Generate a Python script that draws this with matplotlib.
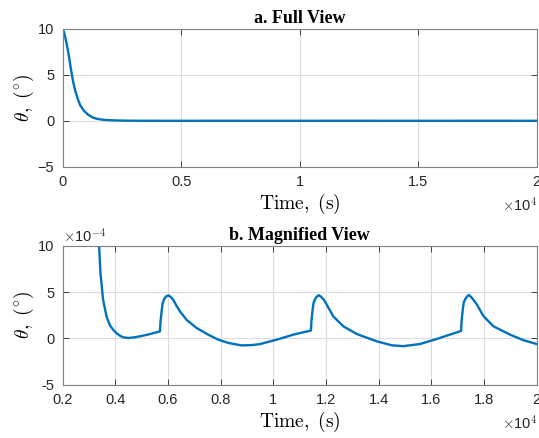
import numpy as np
import matplotlib.pyplot as plt
from matplotlib.ticker import FuncFormatter

# time (s) and pitch angle (deg)
t_decay = [0, 60, 114, 180, 253, 320, 396, 460, 535, 640, 746, 900, 1100, 1300, 1520, 1800, 2220, 2800]
theta_decay = [10.0, 9.7, 9.1, 8.3, 7.3, 6.2, 5.0, 4.1, 3.3, 2.4, 1.7, 1.1, 0.62, 0.33, 0.18, 0.09, 0.04, 0.012]

# magnified part, theta in units of 1e-4 deg
t_tail = [3350, 3390, 3440, 3540, 3670, 3800, 3920, 4050, 4180, 4300, 4490, 4700, 4940, 5300, 5700,
          5720, 5760, 5800, 5850, 5920, 6010, 6100, 6200, 6330, 6460, 6710, 7090, 7530, 7910,
          8300, 8800, 9200, 9490, 10130, 10760, 11430,
          11450, 11490, 11530, 11580, 11650, 11730, 11810, 11920, 12030, 12280, 12660, 13170,
          13930, 14500, 14940, 15570, 16200, 16600, 17130,
          17150, 17190, 17230, 17280, 17350, 17420, 17500, 17600, 17720, 17980, 18360, 18990,
          19500, 20000]
theta_tail_e4 = [12.0, 9.9, 7.05, 4.17, 2.37, 1.4, 0.94, 0.55, 0.29, 0.12, 0.04, 0.1, 0.22, 0.45, 0.76,
                 1.8, 2.9, 3.8, 4.18, 4.5, 4.64, 4.5, 4.18, 3.5, 2.9, 2.0, 1.12, 0.4, -0.14,
                 -0.5, -0.76, -0.72, -0.62, -0.14, 0.4, 0.85,
                 1.9, 3.0, 3.85, 4.2, 4.5, 4.66, 4.5, 4.18, 3.64, 2.37, 1.3, 0.47,
                 -0.32, -0.75, -0.84, -0.61, -0.07, 0.3, 0.8,
                 1.9, 3.0, 3.85, 4.2, 4.5, 4.68, 4.5, 4.15, 3.7, 2.4, 1.3, 0.4,
                 -0.2, -0.61]

t = np.array(t_decay + t_tail, dtype=float)
theta = np.array(theta_decay + [v * 1e-4 for v in theta_tail_e4])

plt.rcParams['font.family'] = 'Liberation Sans'
plt.rcParams['mathtext.fontset'] = 'cm'

blue = '#0072BD'
axcol = '#262626'

fig = plt.figure(figsize=(5.39, 4.38), dpi=100)
ax1 = fig.add_axes([0.116, 0.6194, 0.8797, 0.3144])
ax2 = fig.add_axes([0.116, 0.1217, 0.8797, 0.3173])

for ax in (ax1, ax2):
    ax.plot(t, theta, color=blue, lw=1.7)
    ax.grid(True, color='#dcdcdc', lw=0.8)
    ax.set_axisbelow(True)
    ax.tick_params(direction='in', length=4, width=0.6, colors=axcol,
                   labelsize=10.5, top=True, right=True, pad=6)
    for s in ax.spines.values():
        s.set_color('#808080')
        s.set_linewidth(0.8)
    ax.xaxis.set_major_formatter(FuncFormatter(lambda v, p: '%g' % (v / 1e4)))
    ax.set_xlabel(r'$\mathrm{Time,\ (s)}$', fontsize=14, labelpad=2)
    ax.set_ylabel(r'$\theta,\ (^{\circ})$', fontsize=14, labelpad=1)
    ax.text(1.0, -0.21, r'$\times$10$^{4}$', transform=ax.transAxes,
            ha='right', va='top', fontsize=10.5, color=axcol,
            family='Liberation Sans')

ax1.set_xlim(0, 20000)
ax1.set_ylim(-5, 10)
ax1.set_xticks([0, 5000, 10000, 15000, 20000])
ax1.set_yticks([-5, 0, 5, 10])
ax1.set_title('a. Full View', fontsize=13, fontweight='bold',
              family='Liberation Serif', pad=4)

ax2.set_xlim(2000, 20000)
ax2.set_ylim(-5e-4, 10e-4)
ax2.set_xticks(np.arange(2000, 20001, 2000))
ax2.set_yticks([-5e-4, 0, 5e-4, 10e-4])
ax2.yaxis.set_major_formatter(FuncFormatter(lambda v, p: '%g' % round(v * 1e4, 6)))
ax2.text(0.0, 1.01, r'$\times$10$^{-4}$', transform=ax2.transAxes,
         ha='left', va='bottom', fontsize=10.5, color=axcol,
         family='Liberation Sans')
ax2.set_title('b. Magnified View', fontsize=13, fontweight='bold',
              family='Liberation Serif', pad=4)

fig.savefig('out.png', dpi=100)
